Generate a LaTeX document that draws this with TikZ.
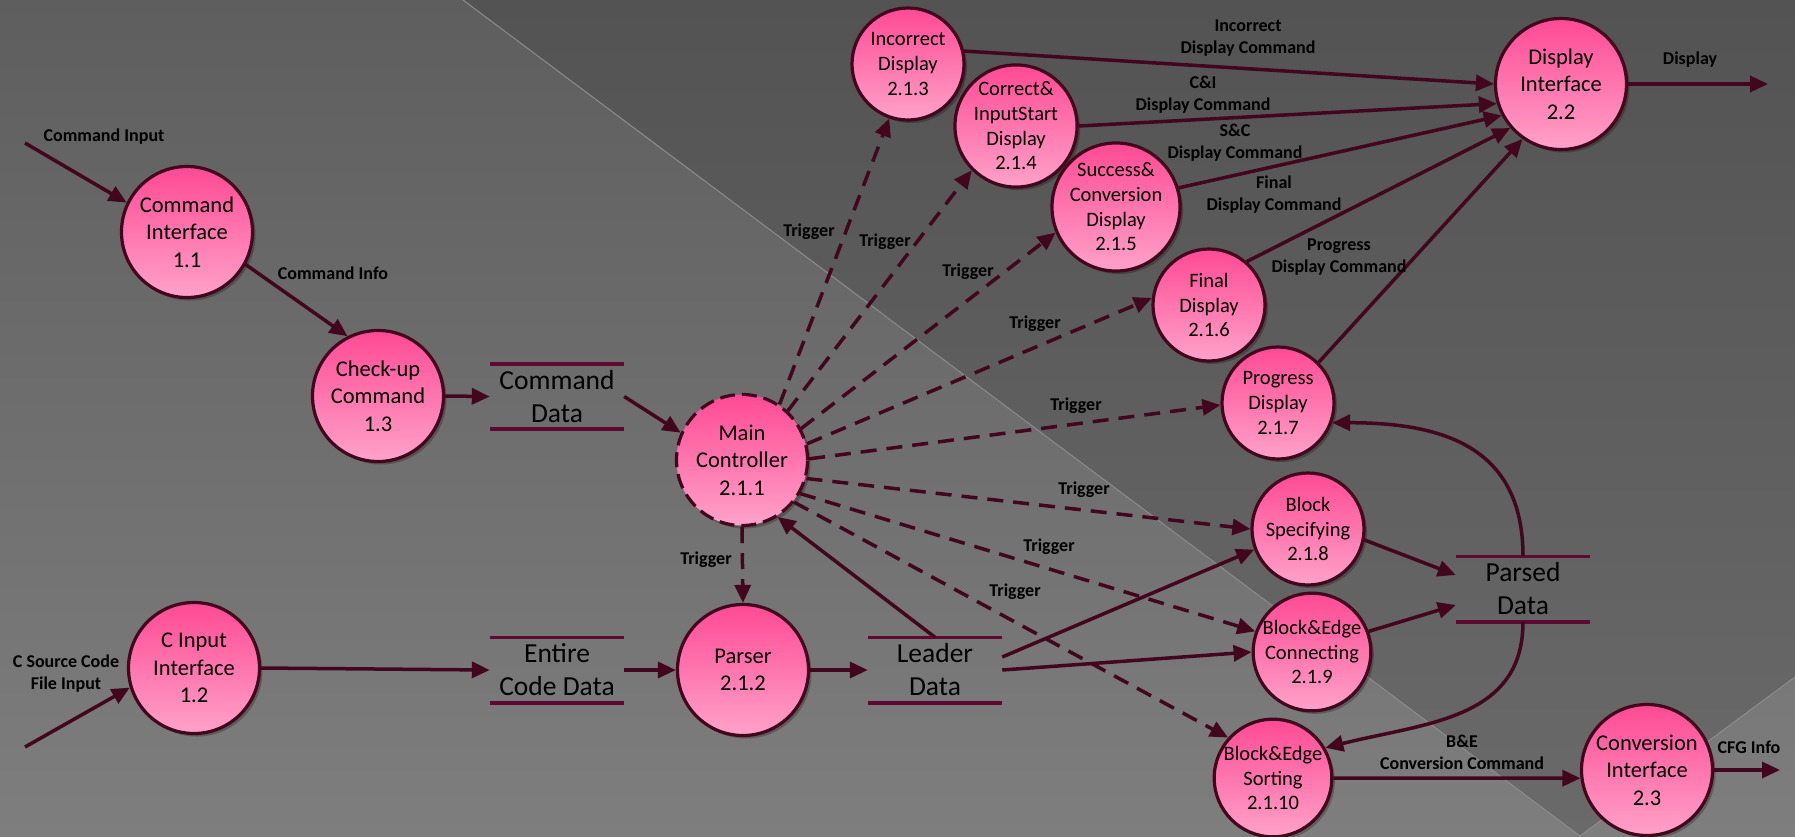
\documentclass[tikz,border=0pt]{standalone}
\usepackage{fontspec}
\setmainfont{Carlito}
\usetikzlibrary{arrows.meta,shadows}

\definecolor{ink}{HTML}{42061D}
\definecolor{storeink}{HTML}{5E0930}
\definecolor{pinktop}{HTML}{FF4A94}
\definecolor{pinkbot}{HTML}{FFA2C9}
\definecolor{bgA}{HTML}{5E5E5E}
\definecolor{bgB}{HTML}{7E7E7E}
\definecolor{bgC}{HTML}{535353}
\definecolor{bgD}{HTML}{6A6A6A}
\definecolor{bgline}{HTML}{8E8E8E}

\tikzset{
  proc/.style={circle, draw=ink, line width=3.2pt, top color=pinktop, bottom color=pinkbot,
    inner sep=0pt, align=center, text=black,
    drop shadow={shadow xshift=3pt, shadow yshift=-3pt, opacity=0.25, fill=black}},
  bigproc/.style={proc, minimum size=131pt, font=\fontsize{22.5}{27.5}\selectfont},
  smallproc/.style={proc, minimum size=112pt, font=\fontsize{20.5}{24.7}\selectfont},
  store/.style={minimum width=134pt, minimum height=65pt, inner sep=0pt, align=center,
    font=\fontsize{27.5}{33}\selectfont},
  storeline/.style={draw=storeink, line width=3.6pt},
  lbl/.style={font=\bfseries\fontsize{18}{22}\selectfont, align=center, inner sep=0pt},
  flow/.style={draw=ink, line width=3.5pt, -{Triangle[length=18pt,width=16pt]}},
  trig/.style={flow, dash pattern=on 16pt off 10pt},
}

\begin{document}
\begin{tikzpicture}[x=1pt, y=-1pt]
\useasboundingbox (0,0) rectangle (1795,836);

% backdrop: two grey panels split by a chevron
\fill[top color=bgA, bottom color=bgB] (0,0) rectangle (1795,836);
\fill[top color=bgC, bottom color=bgD] (463,0) -- (1795,0) -- (1795,677) -- (1580,836) -- cycle;
\draw[bgline, line width=1pt] (463,0) -- (1580,836) -- (1795,677);

% processes
\node[bigproc] (ci) at (187,232) {Command\\Interface\\1.1};
\node[bigproc] (chk) at (378,396) {Check-up\\Command\\1.3};
\node[bigproc] (cin) at (194,668) {C Input\\Interface\\1.2};
\node[bigproc, dash pattern=on 15pt off 7pt] (mc) at (742,460) {Main\\Controller\\2.1.1};
\node[bigproc] (parser) at (743,670) {Parser\\2.1.2};
\node[smallproc] (inc) at (908,64) {Incorrect\\Display\\2.1.3};
\node[smallproc] (cis) at (1016,126) {Correct\&\\InputStart\\Display\\2.1.4};
\node[smallproc] (scd) at (1116,207) {Success\&\\Conversion\\Display\\2.1.5};
\node[smallproc] (fin) at (1209,305) {Final\\Display\\2.1.6};
\node[smallproc] (prg) at (1278,403) {Progress\\Display\\2.1.7};
\node[smallproc] (bsp) at (1308,529) {Block\\Specifying\\2.1.8};
\node[smallproc] (bec) at (1312,652) {Block\&Edge\\Connecting\\2.1.9};
\node[smallproc] (bes) at (1273,778) {Block\&Edge\\Sorting\\2.1.10};
\node[bigproc] (disp) at (1561,84) {Display\\Interface\\2.2};
\node[bigproc] (conv) at (1647,770) {Conversion\\Interface\\2.3};

% data stores
\node[store] (cd) at (557,396.5) {Command\\Data};
\node[store] (ecd) at (557,670) {Entire\\Code Data};
\node[store] (ld) at (935,670) {Leader\\Data};
\node[store] (pd) at (1523,589) {Parsed\\Data};
\foreach \s in {cd,ecd,ld,pd}{
  \draw[storeline] (\s.north west) -- (\s.north east) (\s.south west) -- (\s.south east);
}

% external ends
\coordinate (cmdin) at (25,143);
\coordinate (srcin) at (25,747);
\coordinate (dispout) at (1768,84);
\coordinate (cfgout) at (1780,770);

% data flows
\draw[flow] (cmdin) -- (ci.154.6);
\draw[flow] (ci.331) -- (chk.117.7);
\draw[flow] (chk.east) -- (cd.west);
\draw[flow] (srcin) -- (cin.197.6);
\draw[flow] (cin.east) -- (ecd.west);
\draw[flow] (cd.east) -- (mc.156);
\draw[flow] (ecd.east) -- (parser.west);
\draw[flow] (parser.east) -- (ld.west);
\draw[flow] (ld.north) -- (mc.302);
\draw[flow] ([yshift=13pt]ld.east) -- (bsp.201);
\draw[flow] (ld.east) -- (bec.west);
\draw[flow] (bsp.349) -- ([yshift=14pt]pd.west);
\draw[flow] (bec.20) -- ([yshift=-16pt]pd.west);
\draw[flow] (pd.north) .. controls +(0,-110) and +(110,0) .. (prg.340);
\draw[flow] (pd.south) .. controls +(0,98) and +(100,-25) .. (bes.30);
\draw[flow] (bes.east) -- (conv.187);
\draw[flow] (conv.east) -- (cfgout);
\draw[flow] (disp.east) -- (dispout);
\draw[flow] (inc.13.8) -- (disp.180);
\draw[flow] (cis.east) -- (disp.197.6);
\draw[flow] (scd.17) -- (disp.208);
\draw[flow] (fin.49.5) -- (disp.221);
\draw[flow] (prg.45.7) -- (disp.235);

% trigger flows
\draw[trig] (mc.56.8) -- (inc.251);
\draw[trig] (mc.47.4) -- (cis.225.7);
\draw[trig] (mc.28) -- (scd.203);
\draw[trig] (mc.14.7) -- (fin.173.5);
\draw[trig] (mc.1) -- (prg.182);
\draw[trig] (mc.344.5) -- (bsp.west);
\draw[trig] (mc.330.4) -- (bec.160);
\draw[trig] (mc.321) -- (bes.138.4);
\draw[trig] (mc.south) -- (parser.north);

% flow labels
\node[lbl] (lcmdin) at (104,137) {Command Input};
\node[lbl] (lcmdinfo) at (333,273) {Command Info};
\node[lbl] (lsrc) at (66,674) {C Source Code\\File Input};
\node[lbl] (linc) at (1248,38) {Incorrect\\Display Command};
\node[lbl] (lci) at (1203,95) {C\&I\\Display Command};
\node[lbl] (lsc) at (1235,143) {S\&C\\Display Command};
\node[lbl] (lfin) at (1274,195) {Final\\Display Command};
\node[lbl] (lprg) at (1339,257) {Progress\\Display Command};
\node[lbl] (ldisp) at (1690,60) {Display};
\node[lbl] (lbe) at (1462,752) {B\&E\\Conversion Command};
\node[lbl] (lcfg) at (1749,747) {CFG Info};
\node[lbl] (t1) at (809,232) {Trigger};
\node[lbl] (t2) at (885,242) {Trigger};
\node[lbl] (t3) at (968,272) {Trigger};
\node[lbl] (t4) at (1035,324) {Trigger};
\node[lbl] (t5) at (1076,406) {Trigger};
\node[lbl] (t6) at (1084,490) {Trigger};
\node[lbl] (t7) at (1049,547) {Trigger};
\node[lbl] (t8) at (1015,592) {Trigger};
\node[lbl] (t9) at (706,560) {Trigger};
\end{tikzpicture}
\end{document}
